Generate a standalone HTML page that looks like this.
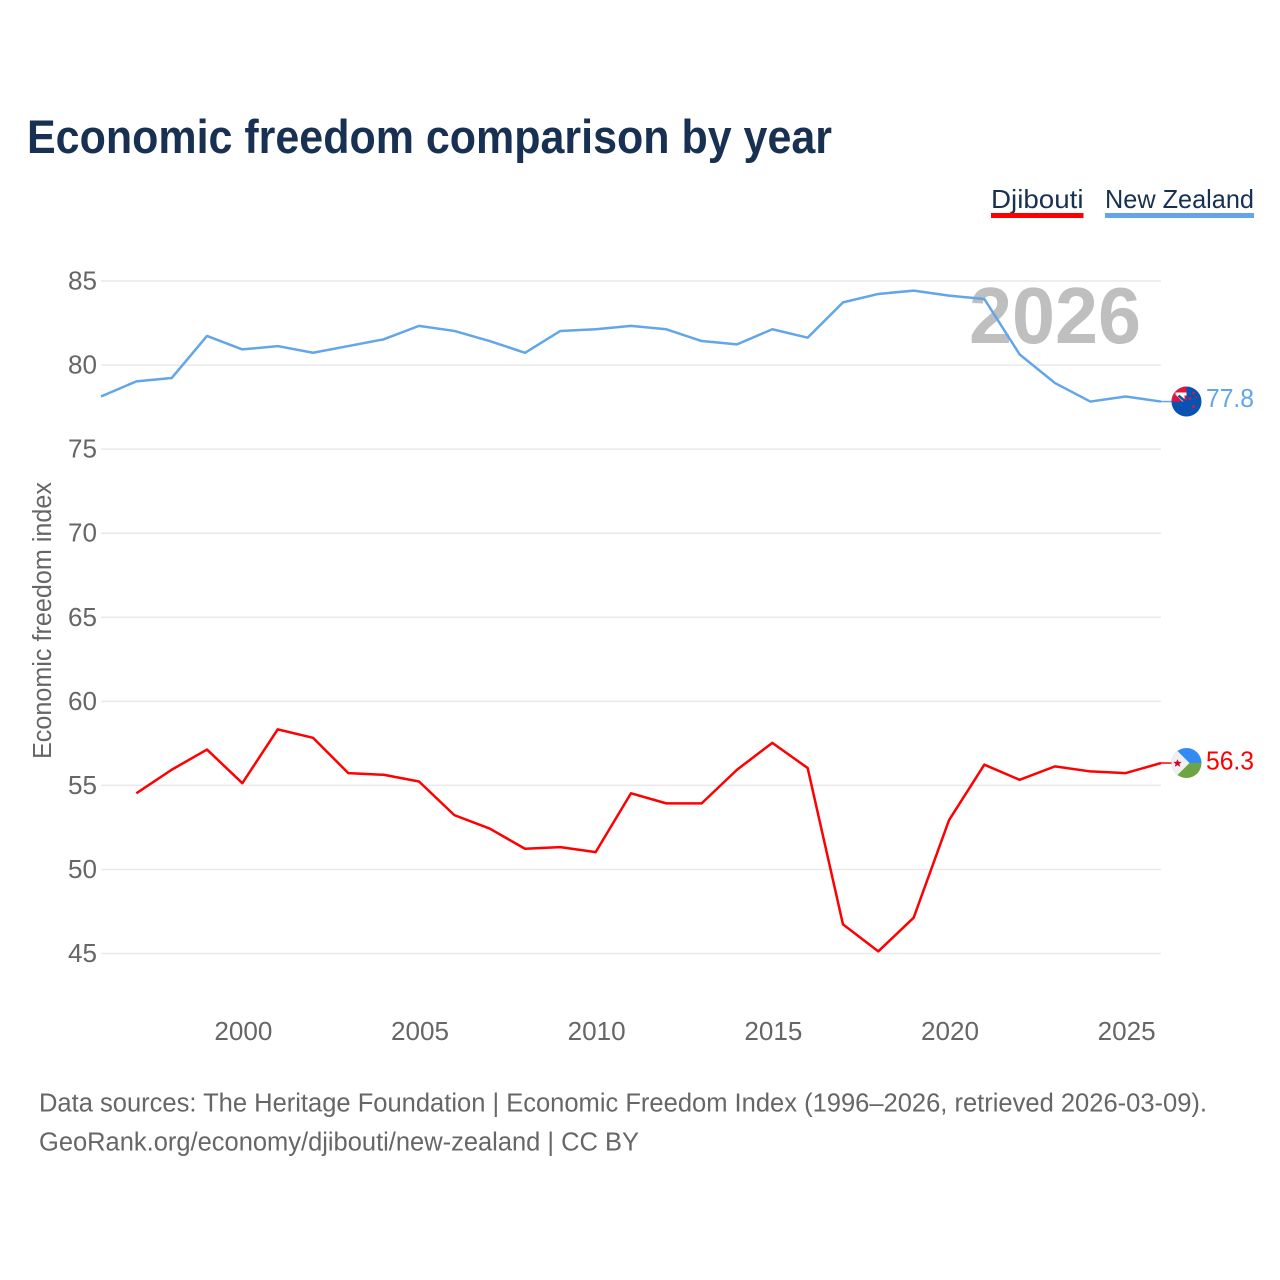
<!DOCTYPE html>
<html lang="en">
<head>
<meta charset="utf-8">
<title>Economic freedom comparison by year</title>
<style>
html,body{margin:0;padding:0;background:#fff;}
svg{display:block;font-family:"Liberation Sans",sans-serif;}
</style>
</head>
<body>
<svg id="chart" width="1280" height="1280" viewBox="0 0 1280 1280" xmlns="http://www.w3.org/2000/svg">
  <rect width="1280" height="1280" fill="#ffffff"/>
  <text x="27" y="153" font-size="47" font-weight="700" fill="#183153" textLength="805" lengthAdjust="spacingAndGlyphs">Economic freedom comparison by year</text>

  <g>
    <text x="991" y="208" font-size="26" fill="#183153" textLength="92.500" lengthAdjust="spacingAndGlyphs">Djibouti</text>
    <rect x="991" y="213" width="92.500" height="5" fill="#ff0000"/>
  </g>
  <g>
    <text x="1105" y="208" font-size="26" fill="#183153" textLength="149" lengthAdjust="spacingAndGlyphs">New Zealand</text>
    <rect x="1105" y="213" width="149" height="5" fill="#62a5ea"/>
  </g>

  <g id="grid"></g>
  <g id="yticks"></g>
  <g id="xticks"></g>

  <text transform="translate(51 759) rotate(-90)" font-size="25.500" fill="#666666" textLength="277" lengthAdjust="spacingAndGlyphs">Economic freedom index</text>

  <text id="yearLabel" x="969" y="343" font-size="80" font-weight="700" fill="#bfbfbf" textLength="172" lengthAdjust="spacingAndGlyphs"></text>

  <g id="series"></g>

  <defs>
    <clipPath id="clipNz"><circle cx="0" cy="0" r="15"/></clipPath>
    <clipPath id="clipDj"><circle cx="0" cy="0" r="15"/></clipPath>
  </defs>

  <g id="flagNz">
    <g clip-path="url(#clipNz)">
      <rect x="-15" y="-15" width="30" height="30" fill="#0a52b0"/>
      <rect x="-15" y="-15" width="15" height="15" fill="#e0173c"/>
      <path d="M-11 -9 H0 V-6 H-2 V0 H-4 L-11 -7 Z" fill="#ffffff"/>
      <path d="M-8 -6 L-1 0" stroke="#0a52b0" stroke-width="2.500"/>
      <circle cx="7" cy="-8.500" r="1.300" fill="#e0173c"/>
      <circle cx="3.500" cy="-3" r="1.300" fill="#e0173c"/>
      <circle cx="10" cy="-4" r="0.900" fill="#e0173c"/>
      <circle cx="7" cy="5" r="1.400" fill="#e0173c"/>
    </g>
  </g>

  <g id="flagDj">
    <g clip-path="url(#clipDj)">
      <rect x="-15" y="-15" width="30" height="15" fill="#338af3"/>
      <rect x="-15" y="0" width="30" height="15" fill="#6da544"/>
      <path d="M-12 -15 L3 0 L-12 15 L-15 15 V-15 Z" fill="#f0f0f0"/>
      <path d="M-9 -3.800 L-7.800 -1.100 L-4.800 -1.100 L-7.100 0.800 L-6.300 3.700 L-9 2.100 L-11.700 3.700 L-10.900 0.800 L-13.200 -1.100 L-10.200 -1.100 Z" fill="#d80027"/>
    </g>
  </g>

  <g id="endLabels"></g>

  <text x="39" y="1111.500" font-size="25.500" fill="#666666" textLength="1168" lengthAdjust="spacingAndGlyphs">Data sources: The Heritage Foundation | Economic Freedom Index (1996–2026, retrieved 2026-03-09).</text>
  <text x="39" y="1150.500" font-size="25.500" fill="#666666" textLength="600" lengthAdjust="spacingAndGlyphs">GeoRank.org/economy/djibouti/new-zealand | CC BY</text>

  <script>
    var firstYear = 1996;
    var lastYear = 2026;
    var yTickValues = [45, 50, 55, 60, 65, 70, 75, 80, 85];
    var xTickYears = [2000, 2005, 2010, 2015, 2020, 2025];
    var newZealandYears = [1996, 1997, 1998, 1999, 2000, 2001, 2002, 2003, 2004, 2005, 2006, 2007, 2008, 2009, 2010, 2011, 2012, 2013, 2014, 2015, 2016, 2017, 2018, 2019, 2020, 2021, 2022, 2023, 2024, 2025, 2026];
    var newZealandValues = [78.1, 79.0, 79.2, 81.7, 80.9, 81.1, 80.7, 81.1, 81.5, 82.3, 82.0, 81.4, 80.7, 82.0, 82.1, 82.3, 82.1, 81.4, 81.2, 82.1, 81.6, 83.7, 84.2, 84.4, 84.1, 83.9, 80.6, 78.9, 77.8, 78.1, 77.8];
    var djiboutiYears = [1997, 1998, 1999, 2000, 2001, 2002, 2003, 2004, 2005, 2006, 2007, 2008, 2009, 2010, 2011, 2012, 2013, 2014, 2015, 2016, 2017, 2018, 2019, 2020, 2021, 2022, 2023, 2024, 2025, 2026];
    var djiboutiValues = [54.5, 55.9, 57.1, 55.1, 58.3, 57.8, 55.7, 55.6, 55.2, 53.2, 52.4, 51.2, 51.3, 51.0, 54.5, 53.9, 53.9, 55.9, 57.5, 56.0, 46.7, 45.1, 47.1, 52.9, 56.2, 55.3, 56.1, 55.8, 55.7, 56.3];

    var NS = 'http://www.w3.org/2000/svg';
    function xScale(year) {
      return 101 + (year - firstYear) * (1161 - 101) / (lastYear - firstYear);
    }
    function yScale(value) {
      return 280.5 + (85 - value) * (953 - 280.5) / 40;
    }
    function make(tag, parentId) {
      var el = document.createElementNS(NS, tag);
      document.getElementById(parentId).appendChild(el);
      return el;
    }
    function pathFrom(years, values) {
      return years.map(function (year, i) {
        return (i ? 'L' : 'M') + xScale(year).toFixed(2) + ' ' + yScale(values[i]).toFixed(2);
      }).join(' ');
    }

    yTickValues.forEach(function (v) {
      var line = make('line', 'grid');
      
      
      line.setAttribute('x1', 101);
      line.setAttribute('x2', 1161);
      line.setAttribute('y1', yScale(v) + 0.5);
      line.setAttribute('y2', yScale(v) + 0.5);
      line.setAttribute('stroke', '#e9e9e9');
      line.setAttribute('stroke-width', 1.5);

      var label = make('text', 'yticks');
      
      
      label.setAttribute('x', 97);
      label.setAttribute('y', yScale(v) + 9);
      label.setAttribute('text-anchor', 'end');
      label.setAttribute('font-size', 25.5);
      label.setAttribute('fill', '#666666');
      label.setAttribute('textLength', 29);
      label.setAttribute('lengthAdjust', 'spacingAndGlyphs');
      label.textContent = v;
    });

    xTickYears.forEach(function (year) {
      var label = make('text', 'xticks');
      
      
      label.setAttribute('x', xScale(year) + 1);
      label.setAttribute('y', 1040);
      label.setAttribute('text-anchor', 'middle');
      label.setAttribute('font-size', 25.5);
      label.setAttribute('fill', '#666666');
      label.setAttribute('textLength', 58);
      label.setAttribute('lengthAdjust', 'spacingAndGlyphs');
      label.textContent = year;
    });

    document.getElementById('yearLabel').textContent = lastYear;

    var nzLine = make('path', 'series');
    
    
    nzLine.setAttribute('d', pathFrom(newZealandYears, newZealandValues));
    nzLine.setAttribute('fill', 'none');
    nzLine.setAttribute('stroke', '#62a5ea');
    nzLine.setAttribute('stroke-width', 2.5);
    nzLine.setAttribute('stroke-linejoin', 'round');

    var djLine = make('path', 'series');
    
    
    djLine.setAttribute('d', pathFrom(djiboutiYears, djiboutiValues));
    djLine.setAttribute('fill', 'none');
    djLine.setAttribute('stroke', '#ff0000');
    djLine.setAttribute('stroke-width', 2.5);
    djLine.setAttribute('stroke-linejoin', 'round');

    var nzLast = newZealandValues[newZealandValues.length - 1];
    var djLast = djiboutiValues[djiboutiValues.length - 1];

    var nzConnector = make('line', 'series');
    
    
    nzConnector.setAttribute('x1', xScale(lastYear));
    nzConnector.setAttribute('x2', xScale(lastYear) + 12);
    nzConnector.setAttribute('y1', yScale(nzLast));
    nzConnector.setAttribute('y2', yScale(nzLast));
    nzConnector.setAttribute('stroke', '#62a5ea');
    nzConnector.setAttribute('stroke-width', 1.5);

    var djConnector = make('line', 'series');
    
    
    djConnector.setAttribute('x1', xScale(lastYear));
    djConnector.setAttribute('x2', xScale(lastYear) + 12);
    djConnector.setAttribute('y1', yScale(djLast));
    djConnector.setAttribute('y2', yScale(djLast));
    djConnector.setAttribute('stroke', '#ff0000');
    djConnector.setAttribute('stroke-width', 1.5);

    document.getElementById('flagNz').setAttribute('transform', 'translate(' + (xScale(lastYear) + 25.5) + ' ' + yScale(nzLast) + ')');
    document.getElementById('flagDj').setAttribute('transform', 'translate(' + (xScale(lastYear) + 25.5) + ' ' + yScale(djLast) + ')');

    var nzValue = make('text', 'endLabels');
    
    
    nzValue.setAttribute('x', 1206);
    nzValue.setAttribute('y', yScale(nzLast) + 5.5);
    nzValue.setAttribute('font-size', 26);
    nzValue.setAttribute('fill', '#62a5ea');
    nzValue.setAttribute('textLength', 48);
    nzValue.setAttribute('lengthAdjust', 'spacingAndGlyphs');
    nzValue.textContent = nzLast.toFixed(1);

    var djValue = make('text', 'endLabels');
    
    
    djValue.setAttribute('x', 1206);
    djValue.setAttribute('y', yScale(djLast) + 6.5);
    djValue.setAttribute('font-size', 26);
    djValue.setAttribute('fill', '#ff0000');
    djValue.setAttribute('textLength', 48);
    djValue.setAttribute('lengthAdjust', 'spacingAndGlyphs');
    djValue.textContent = djLast.toFixed(1);
  </script>
</svg>
</body>
</html>
